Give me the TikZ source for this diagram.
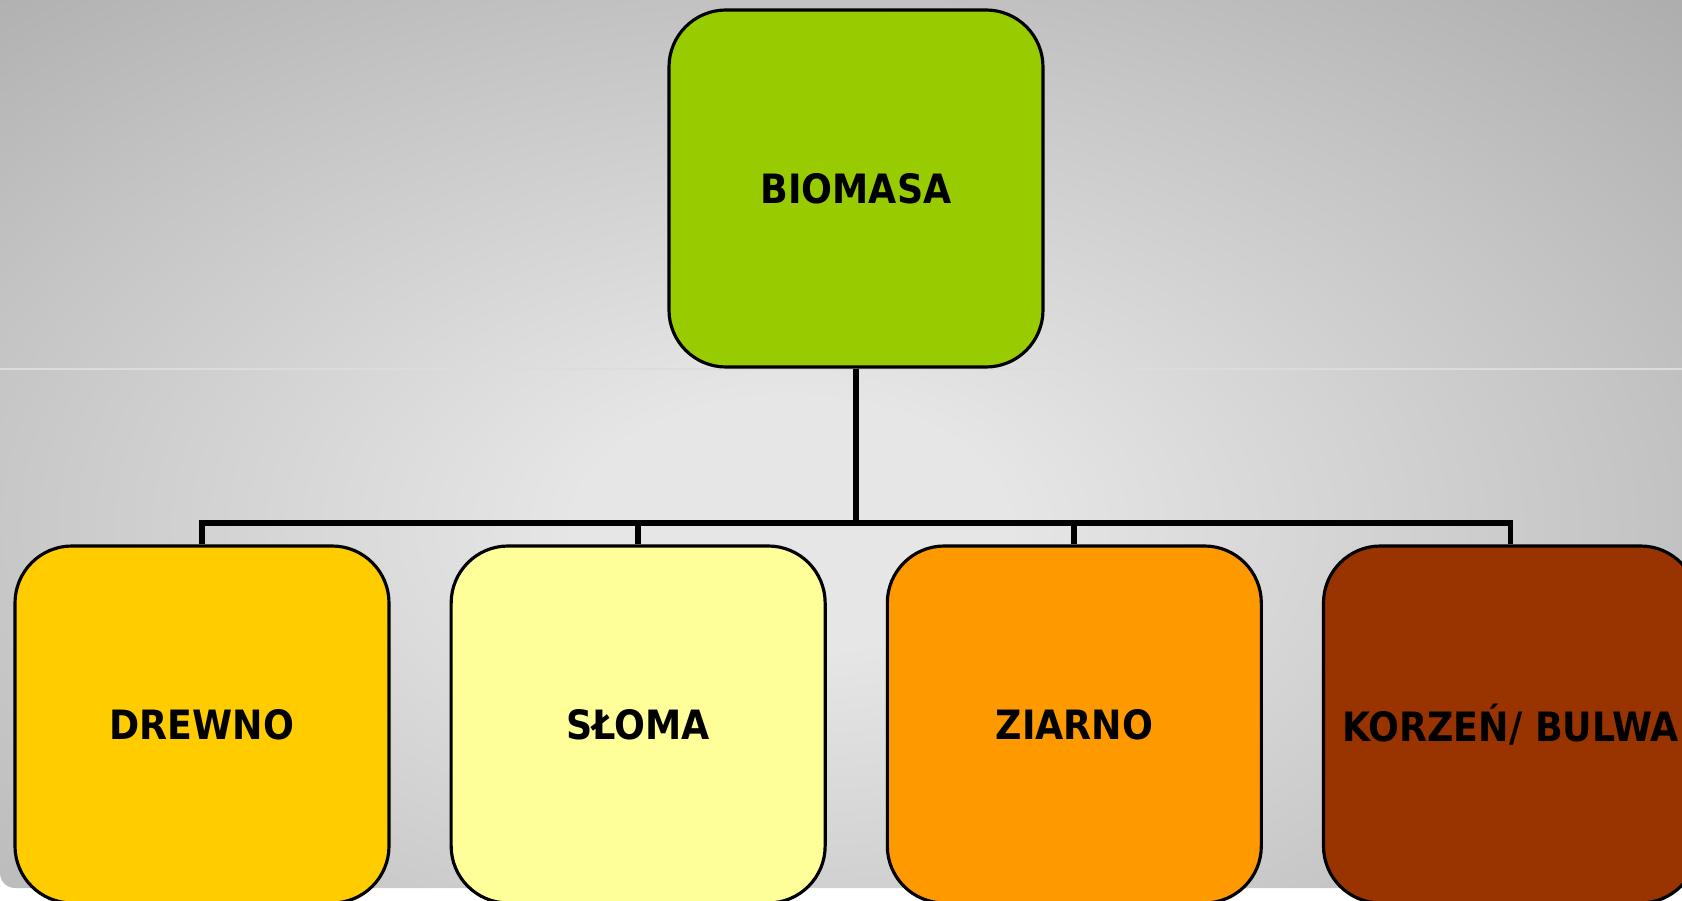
\documentclass[tikz,border=0pt]{standalone}
\usepackage{fontspec}
\setsansfont{DejaVu Sans Condensed}
\usepackage{tikz}
\usetikzlibrary{positioning}

\definecolor{bgin}{HTML}{E6E6E6}
\definecolor{bgmid}{HTML}{C4C4C4}
\definecolor{bgout}{HTML}{AEAEAE}
\definecolor{seam}{HTML}{DCDCDC}
\definecolor{zielony}{HTML}{99CC00}
\definecolor{zolty}{HTML}{FFCC00}
\definecolor{jasny}{HTML}{FFFF99}
\definecolor{pomarancz}{HTML}{FF9900}
\definecolor{braz}{HTML}{993300}
\pgfdeclareradialshading{tlo}{\pgfpoint{0bp}{0bp}}{color(0bp)=(bgin); color(6bp)=(bgin); color(24bp)=(bgmid); color(35bp)=(bgout); color(71bp)=(bgout)}

\begin{document}
\begin{tikzpicture}[
    box/.style={draw, line width=0.9pt, rounded corners=0.57cm, minimum width=3.74cm,
        minimum height=3.57cm, inner sep=0pt, font=\sffamily\bfseries\fontsize{11.5}{13}\selectfont},
    conn/.style={line width=1.7pt}]
    \clip (0,0) rectangle (16.82,9);
    \begin{scope}
        \clip (16.82,9) -- (0,9) [rounded corners=0.15cm] -- (0,0.12) -- (16.82,0.12) [sharp corners] -- cycle;
        \shade[shading=tlo] (-1,-1.5) rectangle (16.82,9);
    \end{scope}
    \draw[seam, line width=0.6pt] (0,5.31) -- (16.82,5.31);
    \node[box, fill=zielony] (biomasa) at (8.56,7.115) {BIOMASA};
    \node[box, fill=zolty] (drewno) at (2.02,1.755) {DREWNO};
    \node[box, fill=jasny, right=0.59cm of drewno] (sloma) {SŁOMA};
    \node[box, fill=pomarancz, right=0.59cm of sloma] (ziarno) {ZIARNO};
    \node[box, fill=braz, right=0.59cm of ziarno] (korzen) {KORZEŃ/ BULWA};
    \foreach \n in {drewno,sloma,ziarno,korzen}
        \draw[conn] (biomasa.south) -- ++(0,-1.54) -| (\n.north);
\end{tikzpicture}
\end{document}
